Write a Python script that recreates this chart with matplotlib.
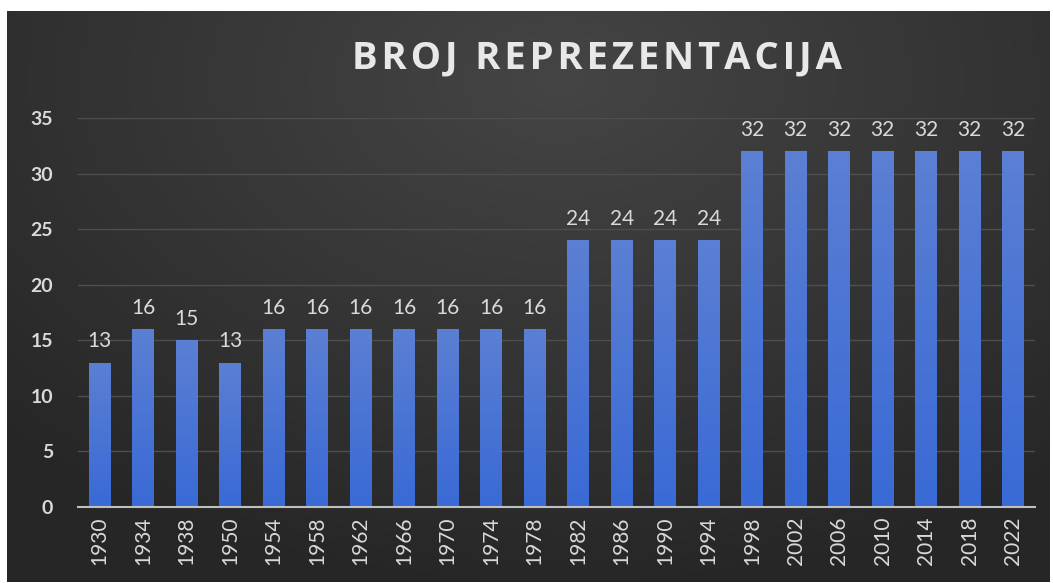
import matplotlib
matplotlib.use('Agg')
import matplotlib.pyplot as plt
import numpy as np

years = ['1930', '1934', '1938', '1950', '1954', '1958', '1962', '1966', '1970', '1974', '1978',
         '1982', '1986', '1990', '1994', '1998', '2002', '2006', '2010', '2014', '2018', '2022']
teams = [13, 16, 15, 13, 16, 16, 16, 16, 16, 16, 16,
         24, 24, 24, 24, 32, 32, 32, 32, 32, 32, 32]
title = 'BROJ REPREZENTACIJA'

plt.rcParams['font.family'] = ['Lato', 'DejaVu Sans']
txt = '#d9d9d9'

W, H = 1053, 583
fig = plt.figure(figsize=(W / 100, H / 100), dpi=100, facecolor='white')

# dark background with a soft radial glow
bg = fig.add_axes([7 / W, 1 / H, 1043 / W, 571 / H])
bg.set_axis_off()
yy, xx = np.mgrid[0:1:300j, 0:1:600j]
r = np.sqrt(((xx - 0.53) / 0.75) ** 2 + ((yy - 0.12) / 0.9) ** 2)
shade = np.clip(0.27 - 0.12 * r, 0.15, 0.27)
bg.imshow(np.dstack([shade] * 3), aspect='auto', extent=(0, 1, 0, 1), origin='upper')
bg.set_xlim(0, 1)
bg.set_ylim(0, 1)

ax = fig.add_axes([78 / W, (H - 507) / H, (1035 - 78) / W, (507 - 118) / H])
ax.patch.set_alpha(0)
x = np.arange(len(years))
bars = ax.bar(x, teams, width=0.5, color='#4472c4', zorder=2)

# vertical gradient inside each bar
grad = np.linspace(0, 1, 100).reshape(-1, 1)
cmap = matplotlib.colors.LinearSegmentedColormap.from_list('b', ['#5b7fd3', '#3a6ad6'])
for b in bars:
    im = ax.imshow(grad, cmap=cmap, aspect='auto', zorder=3,
                   extent=(b.get_x(), b.get_x() + b.get_width(), 0, b.get_height()))
    im.set_clip_path(b)

for xi, v in zip(x, teams):
    ax.annotate(str(v), (xi, v), xytext=(0, 8), textcoords='offset points',
                ha='center', va='bottom', color=txt, fontsize=15)

ax.set_xlim(-0.5, len(years) - 0.5)
ax.set_ylim(0, 35)
ax.set_yticks(range(0, 36, 5))
ax.set_xticks(x)
ax.set_xticklabels(years, rotation=90)
ax.tick_params(axis='both', length=0, colors=txt)
ax.tick_params(axis='y', pad=18, labelsize=14)
ax.tick_params(axis='x', pad=7, labelsize=15)
for lab in ax.get_yticklabels():
    lab.set_fontweight('bold')
ax.grid(axis='y', color='#4e4e4e', linewidth=1, zorder=0)
for s in ['top', 'right', 'left']:
    ax.spines[s].set_visible(False)
ax.spines['bottom'].set_color('#bfbfbf')
ax.spines['bottom'].set_linewidth(1.5)
ax.spines['bottom'].set_zorder(4)

# title with a bit of letter spacing (hair spaces between letters)
spaced = '\u200a'.join(title)
fig.text(597 / W, (H - 58) / H, spaced, ha='center', va='center', color='#e8e8e8',
         fontsize=27.5, fontweight='bold', family=['Open Sans', 'DejaVu Sans'])

fig.savefig('out.png', dpi=100, facecolor='white')
